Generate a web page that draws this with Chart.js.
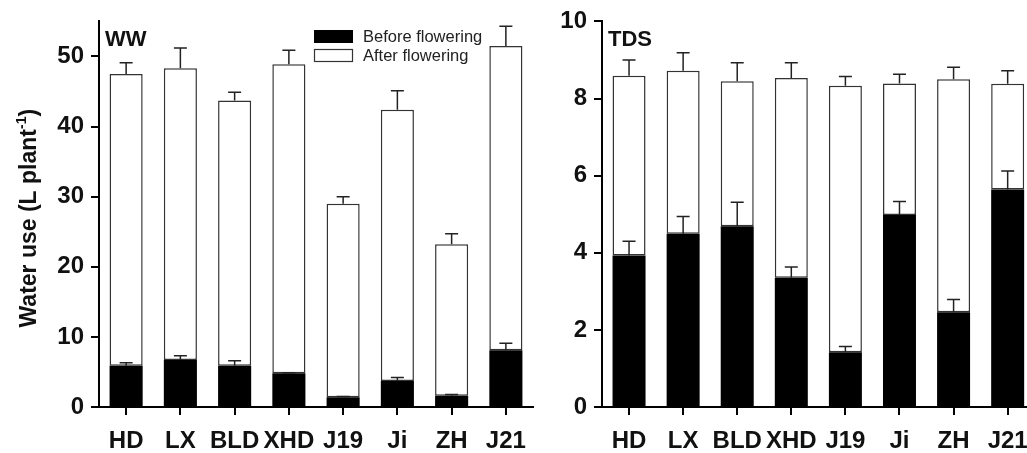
<!DOCTYPE html>
<html>
<head>
<meta charset="utf-8">
<script src="https://cdn.jsdelivr.net/npm/chart.js@4.4.0/dist/chart.umd.min.js"></script>
<style>
    html, body { margin: 0; padding: 0; background: #fff; overflow: hidden; }
    #wrap { position: relative; width: 1027px; height: 453px; overflow: hidden; }
    #ww { position: absolute; left: 0; top: 0; }
    #tds { position: absolute; left: 540px; top: 0; }
</style>
</head>
<body>
<div id="wrap">
    <canvas id="ww" width="540" height="453"></canvas>
    <canvas id="tds" width="500" height="453"></canvas>
</div>
<script>
    // 品种
    const cultivars = ['HD', 'LX', 'BLD', 'XHD', 'J19', 'Ji', 'ZH', 'J21'];

    // WW: before / after flowering (L plant-1) and SE
    const wwBefore = [5.9, 6.7, 5.9, 4.8, 1.4, 3.7, 1.6, 8.1];
    const wwAfter = [41.6, 41.6, 37.8, 44.1, 27.6, 38.7, 21.6, 43.4];
    const wwBeforeErr = [0.4, 0.6, 0.7, 0.1, 0.1, 0.5, 0.2, 1.0];
    const wwAfterErr = [1.6, 2.9, 1.2, 2.0, 1.0, 2.7, 1.5, 2.8];
    const wwTicks = [0, 10, 20, 30, 40, 50];

    // TDS
    const tdsBefore = [3.93, 4.49, 4.69, 3.35, 1.42, 4.98, 2.46, 5.64];
    const tdsAfter = [4.66, 4.23, 3.76, 5.18, 6.91, 3.41, 6.04, 2.74];
    const tdsBeforeErr = [0.37, 0.45, 0.62, 0.28, 0.15, 0.35, 0.33, 0.48];
    const tdsAfterErr = [0.41, 0.47, 0.48, 0.40, 0.24, 0.24, 0.31, 0.34];
    const tdsTicks = [0, 2, 4, 6, 8, 10];

    const legendLabels = ['Before flowering', 'After flowering'];
    const FONT = "'Liberation Sans', Arial, sans-serif";

    // error bars, only upward from the top of each stacked segment
    const errorBars = {
        id: 'errorBars',
        afterDatasetsDraw(chart) {
            const ctx = chart.ctx, y = chart.scales.y;
            ctx.save();
            ctx.strokeStyle = '#222';
            ctx.lineWidth = 1.5;
            chart.data.datasets.forEach((ds, di) => {
                chart.getDatasetMeta(di).data.forEach((bar, i) => {
                    let top = 0;
                    for (let k = 0; k <= di; k++) top += chart.data.datasets[k].data[i];
                    const y0 = y.getPixelForValue(top);
                    const y1 = y.getPixelForValue(top + ds.errors[i]);
                    ctx.beginPath();
                    ctx.moveTo(bar.x, y0);
                    ctx.lineTo(bar.x, y1);
                    ctx.moveTo(bar.x - 6.5, y1);
                    ctx.lineTo(bar.x + 6.5, y1);
                    ctx.stroke();
                });
            });
            ctx.restore();
        }
    };

    // panel label, legend and y title
    const panelText = {
        id: 'panelText',
        afterDraw(chart, args, opts) {
            const ctx = chart.ctx, area = chart.chartArea;
            ctx.save();
            ctx.fillStyle = '#111';
            ctx.font = 'bold 22px ' + FONT;
            ctx.textBaseline = 'middle';
            ctx.textAlign = 'left';
            ctx.fillText(opts.label, area.left + 6, 40);

            if (opts.legend) {
                ctx.fillStyle = '#000';
                ctx.fillRect(314, 30, 39, 13);
                ctx.fillStyle = '#fff';
                ctx.strokeStyle = '#333';
                ctx.lineWidth = 1.2;
                ctx.fillRect(314, 49, 39, 13);
                ctx.strokeRect(314.5, 49.5, 38, 12);
                ctx.fillStyle = '#222';
                ctx.font = '16.5px ' + FONT;
                ctx.fillText(legendLabels[0], 363, 37);
                ctx.fillText(legendLabels[1], 363, 56);
            }

            if (opts.title) {
                const main = 'Water use (L plant', sup = '-1', close = ')';
                ctx.translate(28, (area.top + area.bottom) / 2 + 4);
                ctx.rotate(-Math.PI / 2);
                ctx.fillStyle = '#111';
                ctx.textBaseline = 'alphabetic';
                ctx.font = 'bold 23px ' + FONT;
                const w1 = ctx.measureText(main).width;
                const w3 = ctx.measureText(close).width;
                ctx.font = 'bold 14px ' + FONT;
                const w2 = ctx.measureText(sup).width;
                let x = -(w1 + w2 + w3) / 2;
                ctx.font = 'bold 23px ' + FONT;
                ctx.fillText(main, x, 8);
                ctx.font = 'bold 14px ' + FONT;
                ctx.fillText(sup, x + w1, -2);
                ctx.font = 'bold 23px ' + FONT;
                ctx.fillText(close, x + w1 + w2, 8);
            }
            ctx.restore();
        }
    };

    function makeChart(id, before, after, beforeErr, afterErr, yMax, tickVals, yWidth, padRight, label, isLeft) {
        return new Chart(document.getElementById(id), {
            type: 'bar',
            data: {
                labels: cultivars,
                datasets: [
                    {
                        label: legendLabels[0],
                        data: before,
                        errors: beforeErr,
                        backgroundColor: '#000',
                        borderColor: '#000',
                        borderWidth: 0
                    },
                    {
                        label: legendLabels[1],
                        data: after,
                        errors: afterErr,
                        backgroundColor: '#fff',
                        borderColor: '#333',
                        borderWidth: 1.5,
                        borderSkipped: false
                    }
                ]
            },
            options: {
                responsive: false,
                animation: false,
                devicePixelRatio: 1,
                events: [],
                layout: { padding: { top: 21, right: padRight, left: 0, bottom: 0 } },
                datasets: { bar: { barPercentage: 0.61, categoryPercentage: 1 } },
                plugins: {
                    legend: { display: false },
                    tooltip: { enabled: false },
                    panelText: { label: label, legend: isLeft, title: isLeft }
                },
                scales: {
                    x: {
                        stacked: true,
                        grid: { offset: false, drawOnChartArea: false, tickLength: 8, color: '#000', lineWidth: 2 },
                        border: { color: '#000', width: 2 },
                        ticks: {
                            color: '#111', padding: 12, maxRotation: 0, minRotation: 0, autoSkip: false,
                            font: { family: FONT, size: 24, weight: 'bold' }
                        },
                        afterFit: s => { s.height = 46; }
                    },
                    y: {
                        stacked: true,
                        min: 0,
                        max: yMax,
                        grid: { drawOnChartArea: false, tickLength: 8, color: '#000', lineWidth: 2 },
                        border: { color: '#000', width: 2 },
                        ticks: { color: '#111', padding: 7, font: { family: FONT, size: 24, weight: 'bold' } },
                        afterBuildTicks: s => { s.ticks = tickVals.map(v => ({ value: v })); },
                        afterFit: s => { s.width = yWidth; }
                    }
                }
            },
            plugins: [errorBars, panelText]
        });
    }

    window.onload = function() {
        makeChart('ww', wwBefore, wwAfter, wwBeforeErr, wwAfterErr, 55, wwTicks, 99, 7, 'WW', true);
        makeChart('tds', tdsBefore, tdsAfter, tdsBeforeErr, tdsAfterErr, 10, tdsTicks, 62, 5, 'TDS', false);
    };
</script>
</body>
</html>
